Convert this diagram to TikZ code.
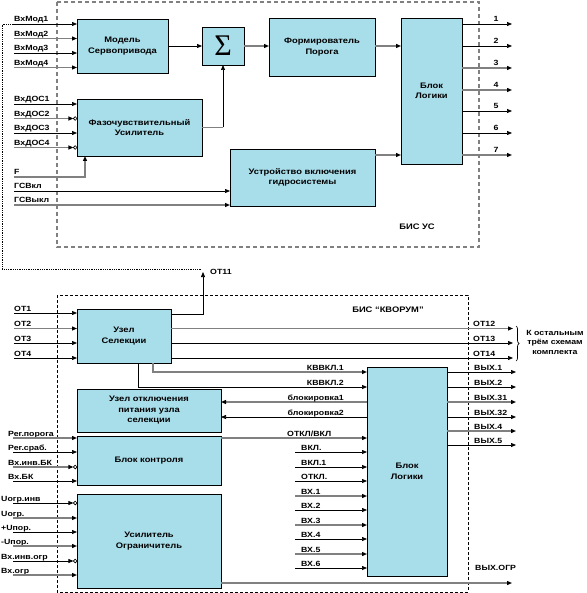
\documentclass[tikz,border=0pt]{standalone}
\usepackage{fontspec}
\setmainfont{Liberation Sans}[FakeStretch=1.17]
\newfontfamily\serf{Liberation Serif}
\usetikzlibrary{arrows.meta,shadows,calc,decorations.pathreplacing}
\definecolor{boxblue}{RGB}{168,221,234}
\definecolor{linegray}{RGB}{128,128,128}
\begin{document}
\begin{tikzpicture}[x=1pt,y=-1pt,
  blk/.style={draw,fill=boxblue,line width=0.8pt,inner sep=1pt,outer sep=0pt,align=center,
    font=\bfseries\fontsize{8}{10.5}\selectfont,
    drop shadow={shadow xshift=1pt,shadow yshift=-1pt,fill=black!45,opacity=1}},
  lbl/.style={anchor=base west,yshift=2pt,inner sep=0pt,font=\bfseries\fontsize{7.5}{9}\selectfont},
  ln/.style={draw=black,line width=0.7pt},
  gln/.style={draw=linegray,line width=1.2pt},
  frameus/.style={draw=linegray,line width=1.3pt,dash pattern=on 4pt off 3pt},
  framekv/.style={draw=black,line width=0.6pt,dash pattern=on 3pt off 2pt},
  dotln/.style={draw=black,line width=0.5pt,dash pattern=on 0.6pt off 1.2pt},
  >={Triangle[length=5pt,width=4pt,color=black]}]
\useasboundingbox (0,0) rectangle (586,593);

\draw[frameus] (57,2) rectangle (479,247);
\node[lbl,anchor=center,yshift=0pt,font=\bfseries\fontsize{8}{9}\selectfont] (bisus) at (417,229) {БИС УС};
\draw[framekv] (57,295) rectangle (468,592);
\node[lbl,anchor=center,yshift=0pt,font=\bfseries\fontsize{8}{9}\selectfont] (biskv) at (388,312) {БИС “КВОРУМ”};

\node[blk,minimum width=91pt,minimum height=54pt] (mod) at (122.5,46) {Модель\\Сервопривода};
\node[blk,minimum width=42pt,minimum height=38pt,inner sep=0pt,font=\serf\fontsize{30}{30}\selectfont] (sum) at (223,46) {Σ};
\node[blk,minimum width=106pt,minimum height=58pt] (form) at (322,47) {Формирователь\\Порога};
\node[blk,minimum width=61pt,minimum height=146pt] (logA) at (431.5,91) {Блок\\Логики};
\node[blk,minimum width=125pt,minimum height=57pt] (faz) at (139.5,127.5) {Фазочувствительный\\Усилитель};
\node[blk,minimum width=145pt,minimum height=57pt] (ustr) at (302.5,177.5) {Устройство включения\\гидросистемы};

\draw[ln,->] (mod.east) -- (sum.west);
\draw[gln,->] (sum.east) -- (sum.east -| form.west);
\draw[gln,->] (sum.east -| form.east) -- (sum.east -| logA.west);
\coordinate (fzc) at (sum.south |- faz.east);
\draw[gln] (faz.east) -- (fzc); \draw[ln,->] (fzc) -- (sum.south);
\coordinate (u7) at ($(ustr.north east)+(0,6)$);
\draw[gln,->] (u7) -- (u7 -| logA.west);

\foreach \y/\t/\c in {24/1/ln,46/2/ln,68/3/gln,90/4/gln,111/5/ln,133/6/ln,155/7/gln}{
  \coordinate (q\t) at (512,\y);
  \draw[\c,->] (q\t -| logA.east) -- (q\t);
  \node[lbl,anchor=base] (qt\t) at (496,\y) {\t};
}

\foreach \y/\t/\c [count=\i] in {24/ВхМод1/ln,38.5/ВхМод2/gln,53/ВхМод3/ln,67.5/ВхМод4/gln}{
  \coordinate (vm\i) at (14,\y);
  \node[lbl] (vmt\i) at (vm\i) {\t};
  \draw[\c,->] (vm\i) -- (vm\i -| mod.west);
}
\foreach \y/\t/\c/\inv [count=\i] in {104/ВхДОС1/ln/0,118.5/ВхДОС2/gln/1,133/ВхДОС3/ln/0,147.5/ВхДОС4/gln/1}{
  \coordinate (vd\i) at (14,\y);
  \node[lbl] (vdt\i) at (vd\i) {\t};
  \ifnum\inv=1
    \draw[\c,->] (vd\i) -- ($(vd\i -| faz.west)+(-3.6,0)$);
    \draw[ln] ($(vd\i -| faz.west)+(-1.8,0)$) circle (1.8pt);
  \else
    \draw[\c,->] (vd\i) -- (vd\i -| faz.west);
  \fi
}
\coordinate (f) at (14,177); \node[lbl] (ft) at (f) {F};
\draw[gln,->] (f) -| ($(faz.south west)+(8,0)$);
\coordinate (g1) at (14,191); \node[lbl] (g1t) at (g1) {ГСВкл};
\coordinate (g2) at (14,205); \node[lbl] (g2t) at (g2) {ГСВыкл};
\draw[ln,->] (g1) -- (g1 -| ustr.west); \draw[gln,->] (g2) -- (g2 -| ustr.west);

\node[blk,minimum width=94pt,minimum height=54pt] (sel) at (124,336) {Узел\\Селекции};
\node[blk,minimum width=144pt,minimum height=43pt] (otkl) at (149,410.5) {Узел отключения\\питания узла\\селекции};
\node[blk,minimum width=144pt,minimum height=49pt] (kontr) at (149,460.5) {Блок контроля};
\node[blk,minimum width=144pt,minimum height=94pt] (usil) at (149,541) {Усилитель\\Ограничитель};
\node[blk,minimum width=80pt,minimum height=209pt] (logB) at (407,471.5) {Блок\\Логики};

\coordinate (o11) at (203,272);
\draw[ln,->] ($(sel.north east)+(0,5)$) -| (o11);
\node[lbl] (o11t) at (210,276) {ОТ11};
\coordinate (fb) at (201,269);
\draw[dotln] (fb) -- (2,269) |- (vm1);

\foreach \y/\t/\c [count=\i] in {313/ОТ1/ln,328.5/ОТ2/gln,343/ОТ3/ln,358/ОТ4/ln}{
  \coordinate (ot\i) at (14,\y);
  \node[lbl] (ott\i) at (ot\i) {\t};
  \draw[\c,->] (ot\i) -- (ot\i -| sel.west);
}
\foreach \y/\t/\c [count=\i] in {328.5/ОТ12/gln,343/ОТ13/ln,358/ОТ14/ln}{
  \coordinate (oo\i) at (513,\y);
  \draw[\c,->] (oo\i -| sel.east) -- (oo\i);
  \node[lbl] (oot\i) at (473,\y) {\t};
}
\draw[ln,decorate,decoration={brace,amplitude=3pt}] (516,326) -- (516,361);
\node[align=center,inner sep=0pt,font=\bfseries\fontsize{7.5}{9.5}\selectfont] (rest) at (555,342) {К остальным\\трём схемам\\комплекта};

\coordinate (k1) at (153,372); \coordinate (k2) at (138,387);
\draw[gln,->] (k1 |- sel.south) -- (k1) -- (k1 -| logB.west);
\draw[ln,->] (k2 |- sel.south) -- (k2) -- (k2 -| logB.west);
\node[lbl,anchor=base east] (k1t) at (344,372) {КВВКЛ.1};
\node[lbl,anchor=base east] (k2t) at (344,387) {КВВКЛ.2};

\coordinate (b1) at (300,402); \coordinate (b2) at (300,417);
\draw[gln,->] (b1 -| logB.west) -- (b1 -| otkl.east);
\draw[ln,->] (b2 -| logB.west) -- (b2 -| otkl.east);
\node[lbl,anchor=base east] (b1t) at (344,402) {блокировка1};
\node[lbl,anchor=base east] (b2t) at (344,417) {блокировка2};

\coordinate (c0) at (300,438);
\draw[gln,->] (c0 -| kontr.east) -- (c0 -| logB.west);
\node[lbl] (c0t) at (287,438) {ОТКЛ/ВКЛ};

\foreach \y/\t/\c/\inv [count=\i] in {438/Рег.порога/gln/0,452/Рег.сраб./ln/0,467/Вх.инв.БК/gln/1,481/Вх.БК/ln/0}{
  \coordinate (rk\i) at (13,\y);
  \node[lbl] (rkt\i) at ($(rk\i)+(-5,0)$) {\t};
  \ifnum\inv=1
    \draw[\c,->] (rk\i) -- ($(rk\i -| kontr.west)+(-3.6,0)$);
    \draw[ln] ($(rk\i -| kontr.west)+(-1.8,0)$) circle (1.8pt);
  \else
    \draw[\c,->] (rk\i) -- (rk\i -| kontr.west);
  \fi
}
\foreach \y/\t/\c/\inv [count=\i] in {503/Uогр.инв/ln/1,518/Uогр./gln/0,532/+Uпор./ln/0,546/-Uпор./gln/0,561/Вх.инв.огр/ln/1,575/Вх.огр/gln/0}{
  \coordinate (ug\i) at (13,\y);
  \node[lbl] (ugt\i) at ($(ug\i)+(-12,0)$) {\t};
  \ifnum\inv=1
    \draw[\c,->] (ug\i) -- ($(ug\i -| usil.west)+(-3.6,0)$);
    \draw[ln] ($(ug\i -| usil.west)+(-1.8,0)$) circle (1.8pt);
  \else
    \draw[\c,->] (ug\i) -- (ug\i -| usil.west);
  \fi
}

\foreach \y/\t/\c [count=\i] in {452/ВКЛ./ln,467/ВКЛ.1/ln,481/ОТКЛ./ln,496/ВХ.1/gln,510/ВХ.2/ln,525/ВХ.3/gln,539/ВХ.4/ln,554/ВХ.5/gln,568/ВХ.6/ln}{
  \coordinate (vx\i) at (295,\y);
  \node[lbl] (vxt\i) at (301,\y) {\t};
  \draw[\c,->] (vx\i) -- (vx\i -| logB.west);
}
\foreach \y/\t/\c [count=\i] in {372/ВЫХ.1/ln,387/ВЫХ.2/ln,402/ВЫХ.31/gln,417/ВЫХ.32/ln,431/ВЫХ.4/gln,445/ВЫХ.5/ln}{
  \coordinate (vy\i) at (516,\y);
  \draw[\c,->] (vy\i -| logB.east) -- (vy\i);
  \node[lbl] (vyt\i) at (474,\y) {\t};
}
\coordinate (vog) at (512,583);
\draw[gln,->] (vog -| usil.east) -- (vog);
\node[lbl] (vogt) at (475,572) {ВЫХ.ОГР};
\end{tikzpicture}
\end{document}
